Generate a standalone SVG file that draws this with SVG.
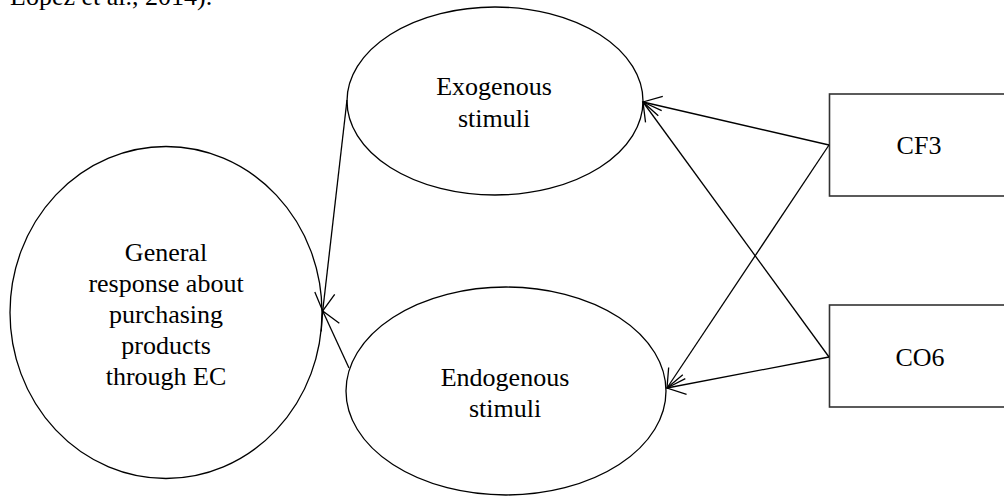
<svg xmlns="http://www.w3.org/2000/svg" width="1004" height="496" viewBox="0 0 1004 496">
<style>
text{font-family:"Liberation Serif","Times New Roman",serif;font-size:26px;fill:#000;text-anchor:middle}
.shape{fill:#fff;stroke:#000;stroke-width:1.3}
.box{fill:#fff;stroke:#333;stroke-width:1.6}
.conn line{stroke:#000;stroke-width:1.3;fill:none;marker-end:url(#open)}
</style>
<defs>
<marker id="open" markerUnits="userSpaceOnUse" markerWidth="30" markerHeight="30" viewBox="-25 -15 30 30" refX="0" refY="0" orient="auto" overflow="visible">
<path d="M-18,-10 L0,0 L-18,10" fill="none" stroke="#000" stroke-width="1.3"/>
</marker>
</defs>
<rect width="1004" height="496" fill="#fff"/>
<text x="10" y="5" style="text-anchor:start">López et al., 2014).</text>
<g id="general">
<ellipse class="shape" cx="166" cy="312.5" rx="156" ry="166"/>
<text x="166" y="260.5">General</text>
<text x="166" y="291.5">response about</text>
<text x="166" y="322.5">purchasing</text>
<text x="166" y="353.5">products</text>
<text x="166" y="384.5">through EC</text>
</g>
<g id="exogenous">
<ellipse class="shape" cx="495" cy="101" rx="148" ry="94"/>
<text x="494" y="95">Exogenous</text>
<text x="494" y="126.5">stimuli</text>
</g>
<g id="endogenous">
<ellipse class="shape" cx="506" cy="391" rx="160" ry="104"/>
<text x="505" y="385.5">Endogenous</text>
<text x="505" y="416.5">stimuli</text>
</g>
<g id="cf3">
<rect class="box" x="829.5" y="94" width="182" height="102"/>
<text x="919" y="154">CF3</text>
</g>
<g id="co6">
<rect class="box" x="829.5" y="305" width="182" height="102"/>
<text x="920" y="365.5">CO6</text>
</g>
<g class="conn" id="connectors">
<line x1="829" y1="145" x2="643" y2="102"/>
<line x1="829" y1="145" x2="667" y2="388"/>
<line x1="829" y1="357" x2="643" y2="102"/>
<line x1="829" y1="357" x2="667" y2="388"/>
<line x1="347" y1="100" x2="322.7" y2="311"/>
<line x1="349" y1="368" x2="322.7" y2="311"/>
</g>
</svg>
